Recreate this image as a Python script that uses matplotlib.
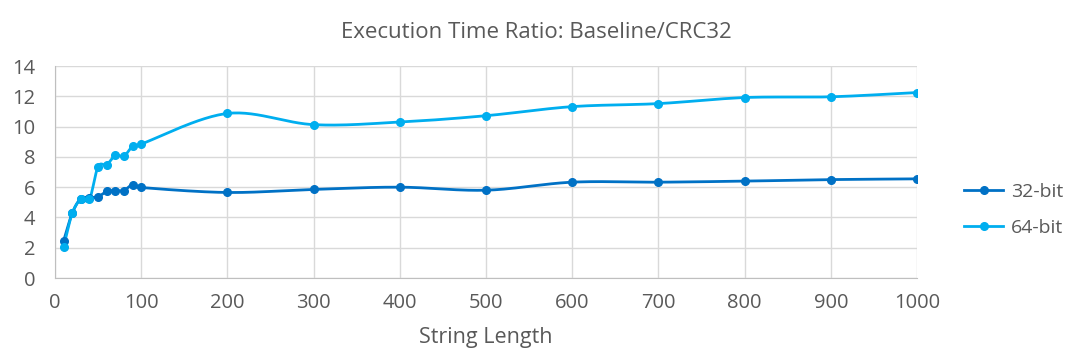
import numpy as np
import matplotlib.pyplot as plt

plt.rcParams['font.family'] = ['Open Sans', 'DejaVu Sans']

string_length = [10, 20, 30, 40, 50, 60, 70, 80, 90, 100,
                 200, 300, 400, 500, 600, 700, 800, 900, 1000]
ratio_32 = [2.45, 4.28, 5.25, 5.3, 5.37, 5.72, 5.78, 5.78, 6.17, 5.98,
            5.65, 5.85, 6.0, 5.8, 6.33, 6.33, 6.4, 6.5, 6.55]
ratio_64 = [2.07, 4.27, 5.2, 5.2, 7.36, 7.48, 8.1, 8.05, 8.7, 8.85,
            10.87, 10.13, 10.3, 10.72, 11.32, 11.52, 11.92, 11.97, 12.25]

c32 = '#0071C5'
c64 = '#00AEEF'
grey = '#595959'


def smooth(x, y, n=30):
    # Catmull-Rom curve through the points, like Excel's smoothed line
    x = np.asarray(x, float)
    y = np.asarray(y, float)
    px = np.concatenate([[2 * x[0] - x[1]], x, [2 * x[-1] - x[-2]]])
    py = np.concatenate([[2 * y[0] - y[1]], y, [2 * y[-1] - y[-2]]])
    xs, ys = [], []
    t = np.linspace(0, 1, n)
    for i in range(1, len(px) - 2):
        for p, out in ((px, xs), (py, ys)):
            p0, p1, p2, p3 = p[i - 1], p[i], p[i + 1], p[i + 2]
            out.append(0.5 * (2 * p1 + (-p0 + p2) * t
                              + (2 * p0 - 5 * p1 + 4 * p2 - p3) * t ** 2
                              + (-p0 + 3 * p1 - 3 * p2 + p3) * t ** 3))
    return np.concatenate(xs), np.concatenate(ys)


fig = plt.figure(figsize=(10.72, 3.59), dpi=100)
ax = fig.add_axes([0.0513, 0.2256, 0.8041, 0.5904])

for y, c, lab in ((ratio_32, c32, '32-bit'), (ratio_64, c64, '64-bit')):
    sx, sy = smooth(string_length, y)
    ax.plot(sx, sy, color=c, lw=2, zorder=3)
    ax.plot(string_length, y, 'o', color=c, ms=5.5, zorder=4)
    ax.plot([], [], '-o', color=c, lw=2, ms=5.5, label=lab)

ax.set_xlim(0, 1000)
ax.set_ylim(0, 14)
ax.set_xticks(range(0, 1001, 100))
ax.set_yticks(range(0, 15, 2))
ax.grid(True, color='#d9d9d9', lw=1)
ax.set_axisbelow(True)
for s in ('top', 'right'):
    ax.spines[s].set_visible(False)
for s in ('left', 'bottom'):
    ax.spines[s].set_color('#bfbfbf')
ax.tick_params(length=0, labelsize=14.5, colors=grey)
ax.tick_params(axis='x', pad=11)
ax.tick_params(axis='y', pad=14)

ax.set_xlabel('String Length', fontsize=15.5, color=grey, labelpad=10)
fig.suptitle('Execution Time Ratio: Baseline/CRC32', fontsize=16, color=grey,
             x=0.5, y=0.94)

fig.legend(loc='center left', bbox_to_anchor=(0.883, 0.415), frameon=False,
           fontsize=14, labelcolor=grey, handlelength=2.0, handletextpad=0.4,
           labelspacing=0.9)

fig.savefig('out.png', dpi=100)
